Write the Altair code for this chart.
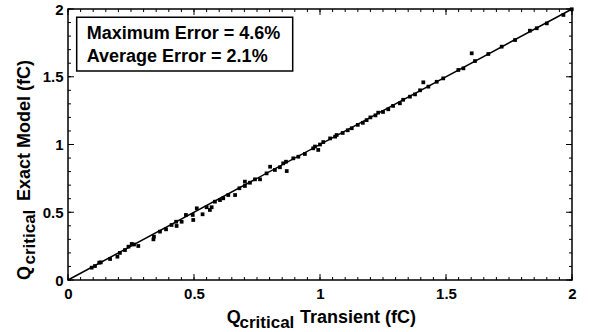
import altair as alt
import pandas as pd
import numpy as np

# ---- data ----
q_transient = [0.094, 0.107, 0.124, 0.130, 0.167, 0.196, 0.206, 0.226, 0.240, 0.253, 0.262, 0.279,
               0.339, 0.341, 0.365, 0.389, 0.411, 0.429, 0.431, 0.451, 0.468, 0.495, 0.497, 0.511,
               0.534, 0.550, 0.563, 0.570, 0.583, 0.603, 0.616, 0.636, 0.663, 0.680, 0.702, 0.702,
               0.722, 0.742, 0.762, 0.788, 0.802, 0.821, 0.841, 0.854, 0.865, 0.868, 0.894, 0.914,
               0.940, 0.973, 0.993, 0.980,
               1.000, 1.013, 1.040, 1.060, 1.066, 1.090, 1.110, 1.126, 1.150, 1.170, 1.185, 1.200,
               1.220, 1.231, 1.250, 1.271, 1.290, 1.317, 1.330, 1.357, 1.377, 1.397, 1.410, 1.430,
               1.463, 1.489, 1.549, 1.569, 1.602, 1.615, 1.668, 1.721, 1.774, 1.833, 1.860, 1.900,
               1.966, 1.999]
q_exact = [0.091, 0.103, 0.128, 0.130, 0.155, 0.172, 0.200, 0.221, 0.246, 0.266, 0.262, 0.251,
           0.300, 0.320, 0.357, 0.374, 0.406, 0.430, 0.399, 0.430, 0.480, 0.480, 0.443, 0.529,
           0.485, 0.537, 0.517, 0.537, 0.578, 0.590, 0.603, 0.627, 0.627, 0.677, 0.726, 0.694,
           0.718, 0.743, 0.743, 0.787, 0.836, 0.812, 0.832, 0.861, 0.873, 0.804, 0.898, 0.910,
           0.930, 0.972, 0.960, 0.985,
           1.000, 1.018, 1.045, 1.058, 1.070, 1.085, 1.105, 1.120, 1.145, 1.160, 1.180, 1.200,
           1.215, 1.235, 1.240, 1.260, 1.285, 1.304, 1.330, 1.353, 1.370, 1.400, 1.459, 1.427,
           1.463, 1.488, 1.550, 1.562, 1.673, 1.616, 1.668, 1.722, 1.771, 1.840, 1.858, 1.894,
           1.956, 1.998]
fit_x = [0, 2]
fit_y = [0, 2]
major_ticks = [0, 0.5, 1, 1.5, 2]
x_minor_ticks = [round(v, 2) for v in np.arange(0, 2.0001, 0.05)]
y_minor_ticks = [round(v, 2) for v in np.arange(0, 2.0001, 0.1)]
box_lines = ["Maximum Error = 4.6%", "Average Error = 2.1%"]

FONT = "Liberation Sans"
W, H = 504, 271

pts = pd.DataFrame({"x": q_transient, "y": q_exact})
fit = pd.DataFrame({"x": fit_x, "y": fit_y})
one = pd.DataFrame({"a": [0]})

xs = alt.Scale(domain=[0, 2], nice=False, zero=False)
ys = alt.Scale(domain=[0, 2], nice=False, zero=False)

x_axis = alt.Axis(values=major_ticks, format="~g", title=None, grid=False, ticks=False,
                  domain=False, labelFont=FONT, labelFontSize=15, labelFontWeight="bold",
                  labelColor="black", labelPadding=6, labelFlush=False, labelOverlap=False)
y_axis = alt.Axis(values=major_ticks, format="~g", title=None, grid=False, ticks=False,
                  domain=False, labelFont=FONT, labelFontSize=15, labelFontWeight="bold",
                  labelColor="black", labelPadding=5, labelFlush=False, labelOverlap=False)

points = alt.Chart(pts).mark_square(size=14, color="black", opacity=1).encode(
    x=alt.X("x:Q", scale=xs, axis=x_axis),
    y=alt.Y("y:Q", scale=ys, axis=y_axis),
)
line = alt.Chart(fit).mark_line(color="black", strokeWidth=1.5).encode(
    x=alt.X("x:Q", scale=xs), y=alt.Y("y:Q", scale=ys)
)

def xticks(vals, length):
    df = pd.DataFrame({"v": vals})
    bottom = alt.Chart(df).mark_rule(color="black", strokeWidth=1).encode(
        x=alt.X("v:Q", scale=xs), y=alt.value(H), y2=alt.value(H - length))
    top = alt.Chart(df).mark_rule(color="black", strokeWidth=1).encode(
        x=alt.X("v:Q", scale=xs), y=alt.value(0), y2=alt.value(length))
    return [bottom, top]

def yticks(vals, length):
    df = pd.DataFrame({"v": vals})
    left = alt.Chart(df).mark_rule(color="black", strokeWidth=1).encode(
        y=alt.Y("v:Q", scale=ys), x=alt.value(0), x2=alt.value(length))
    right = alt.Chart(df).mark_rule(color="black", strokeWidth=1).encode(
        y=alt.Y("v:Q", scale=ys), x=alt.value(W), x2=alt.value(W - length))
    return [left, right]

tick_layers = xticks(x_minor_ticks, 3) + xticks(major_ticks, 6) + yticks(y_minor_ticks, 3) + yticks(major_ticks, 6)

box = alt.Chart(one).mark_rect(fill="white", stroke="black", strokeWidth=1.5).encode(
    x=alt.value(8.7), x2=alt.value(224.7), y=alt.value(8.3), y2=alt.value(62))

def txt(s, x, y, size, angle=0, baseline="alphabetic"):
    kw = dict(align="left", baseline=baseline, font=FONT, fontSize=size, fontWeight="bold", color="black")
    if angle:
        kw["angle"] = angle
    return alt.Chart(one).mark_text(**kw).encode(x=alt.value(x), y=alt.value(y), text=alt.value(s))

texts = [
    txt(box_lines[0], 18.7, 30.3, 18),
    txt(box_lines[1], 18.7, 52.7, 18),
    # x title
    txt("Q", 158.7, 314, 18),
    txt("critical", 171.5, 319, 17),
    txt("Transient (fC)", 232, 314, 18),
    # y title (rotated)
    txt("Q", -38, 271, 18, angle=270),
    txt("critical", -33, 255.5, 17, angle=270),
    txt("Exact Model (fC)", -38, 192, 18, angle=270),
]

chart = alt.layer(points, line, *tick_layers, box, *texts).properties(
    width=W, height=H,
    autosize="none",
    padding={"left": 68, "top": 9, "right": 18, "bottom": 52},
    background="white",
).configure_view(stroke="black", strokeWidth=1.5)

chart.save("out.html", embed_options={"renderer": "svg", "actions": False})
